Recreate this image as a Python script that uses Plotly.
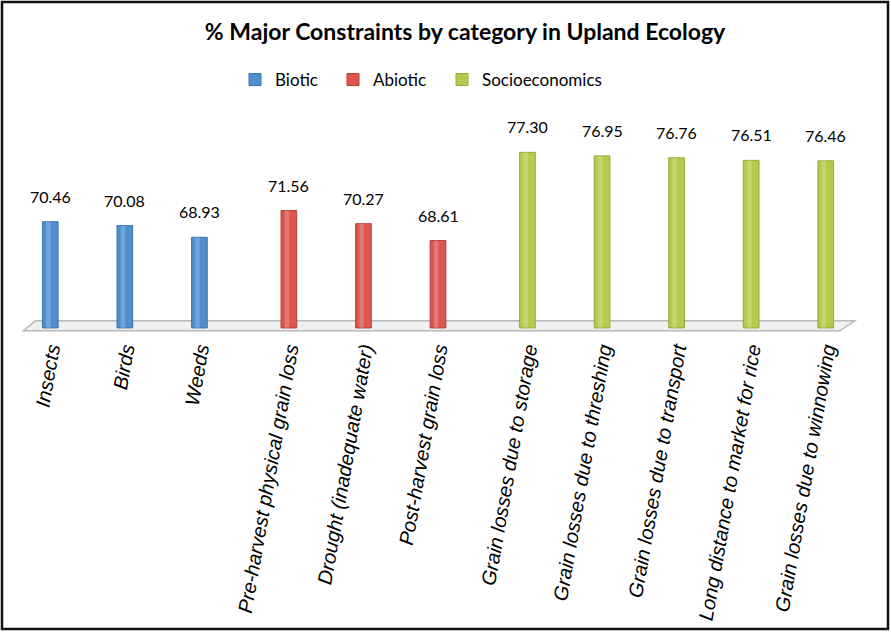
import plotly.graph_objects as go

# data
groups = ["Biotic", "Abiotic", "Socioeconomics"]
group_colors = ["#4f8fcd", "#dc564f", "#b6ca4c"]
group_edges = ["#3a74ab", "#b63d37", "#94a836"]

biotic_labels = ["Insects", "Birds", "Weeds"]
biotic_values = [70.46, 70.08, 68.93]

abiotic_labels = ["Pre-harvest physical grain loss", "Drought (inadequate water)", "Post-harvest grain loss"]
abiotic_values = [71.56, 70.27, 68.61]

socio_labels = [
    "Grain losses due to storage",
    "Grain losses due to threshing",
    "Grain losses due to transport",
    "Long distance to market for rice",
    "Grain losses due to winnowing",
]
socio_values = [77.30, 76.95, 76.76, 76.51, 76.46]

W, H = 891, 632
L, R, T, B = 13, 28, 130, 299
BASE = 60
Y_MIN, Y_MAX = 59.5, 79.5
X_MIN, X_MAX = -0.5, 10.9
GROUP_GAP = 0.2
LEGEND_TEXT_X = [275, 373, 482]  # where each legend label starts, px

fig = go.Figure()
pw, ph = W - L - R, H - T - B

all_pos, all_labels = [], []
i = 0
for g, (name, labels, values) in enumerate(zip(groups,
                                               [biotic_labels, abiotic_labels, socio_labels],
                                               [biotic_values, abiotic_values, socio_values])):
    pos = [i + k + g * GROUP_GAP for k in range(len(labels))]
    i += len(labels)
    all_pos += pos
    all_labels += labels
    heights = [v - BASE for v in values]
    leg = "legend" if g == 0 else f"legend{g + 1}"
    fig.add_trace(go.Bar(
        x=pos, y=heights, base=BASE, name=name, legend=leg,
        width=0.21,
        marker=dict(color=group_colors[g], line=dict(color=group_edges[g], width=1)),
        customdata=values, hovertemplate="%{customdata:.2f}<extra>" + name + "</extra>",
    ))
    # lighter stripe to suggest the cylinder shading
    fig.add_trace(go.Bar(
        x=[p - 0.025 for p in pos], y=heights, base=BASE, width=0.06,
        marker=dict(color="rgba(255,255,255,0.2)", line=dict(width=0)),
        showlegend=False, hoverinfo="skip",
    ))
    for p, v in zip(pos, values):
        fig.add_annotation(x=p, y=v, text=f"{v:.2f}",
                           showarrow=False, yanchor="bottom", yshift=14,
                           font=dict(family="Lato", size=16, color="#000"))
    fig.update_layout({leg: dict(
        orientation="h", x=(LEGEND_TEXT_X[g] - 40 - L) / pw, xanchor="left",
        y=1 + (T - 80) / ph, yanchor="middle", bgcolor="rgba(0,0,0,0)",
        font=dict(family="Lato", size=17, color="#000"), itemwidth=30,
    )})

# grey floor under the bars
fig.add_shape(type="path", layer="below",
              path="M -0.36 59.72 L 10.59 59.72 L 10.79 60.7 L -0.2 60.7 Z",
              fillcolor="#f0f0f0", line=dict(color="#b8b8b8", width=1.5))

# frame round the whole picture
fig.add_shape(type="rect", xref="paper", yref="paper",
              x0=-(L - 2) / pw, x1=1 + (R - 3) / pw, y0=-(B - 3) / ph, y1=1 + (T - 2) / ph,
              line=dict(color="#111", width=2.5))

fig.update_layout(
    width=W, height=H,
    margin=dict(l=L, r=R, t=T, b=B, autoexpand=False),
    paper_bgcolor="white", plot_bgcolor="white",
    barmode="overlay",
    title=dict(text="<b>% Major Constraints by category in Upland Ecology</b>",
               x=465 / W, xanchor="center", y=1 - 32 / H, yanchor="middle",
               font=dict(family="Lato", size=23, color="#000")),
    showlegend=True,
    xaxis=dict(range=[X_MIN, X_MAX], tickvals=all_pos, ticktext=all_labels, tickangle=-80,
               showgrid=False, zeroline=False, showline=False, ticks="", automargin=False,
               tickfont=dict(family="Liberation Sans", size=20, style="italic", color="#000")),
    yaxis=dict(range=[Y_MIN, Y_MAX], visible=False),
)

# drop the default page margin so the figure sits at the window corner
fig.write_html("out.html", config={"displayModeBar": False},
               post_script="document.body.style.margin='0';")
